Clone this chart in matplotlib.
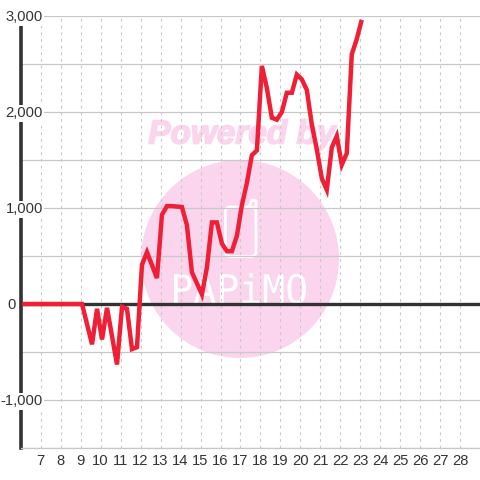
import matplotlib
matplotlib.use('Agg')
import matplotlib.pyplot as plt
import matplotlib.patheffects as pe
from matplotlib.font_manager import FontProperties
from matplotlib.patches import Circle, FancyBboxPatch, PathPatch
from matplotlib.textpath import TextPath
from matplotlib.transforms import Affine2D, blended_transform_factory

plt.rcParams['font.family'] = ['Liberation Sans', 'DejaVu Sans']

hours = [6, 6.5, 7, 7.5, 8, 8.5, 9, 9.5, 9.75, 10, 10.25, 10.75, 11, 11.25, 11.5, 11.75,
         12, 12.25, 12.75, 13, 13.25, 13.5, 14, 14.25, 14.5, 15, 15.25, 15.5, 15.75, 16,
         16.25, 16.5, 16.75, 17, 17.25, 17.5, 17.75, 18, 18.25, 18.5, 18.75, 19, 19.25,
         19.5, 19.75, 20, 20.25, 20.5, 20.75, 21, 21.25, 21.5, 21.75, 22, 22.25, 22.5,
         22.75, 23]
values = [0, 0, 0, 0, 0, 0, 0, -420, -50, -370, -40, -630, -30, -50, -470, -450,
          410, 540, 270, 930, 1020, 1020, 1010, 820, 330, 100, 380, 850, 850, 630,
          550, 550, 710, 1030, 1260, 1550, 1600, 2480, 2250, 1940, 1920, 2000, 2200,
          2200, 2390, 2340, 2230, 1870, 1610, 1310, 1190, 1630, 1750, 1450, 1570, 2600,
          2760, 2960]
x_ticks = list(range(7, 29))
y_major = [-1000, 0, 1000, 2000, 3000]
y_minor = [-1500, -500, 500, 1500, 2500]
y_labels = ['-1,000', '0', '1,000', '2,000', '3,000']

fig = plt.figure(figsize=(4.8, 4.8), dpi=100)

# watermark goes on a pixel-sized axes underneath the chart
bg = fig.add_axes([0, 0, 1, 1], zorder=0)
bg.set_xlim(0, 480)
bg.set_ylim(480, 0)
bg.axis('off')
pink = '#fbd5ee'
bg.add_patch(Circle((240, 259), 99, color=pink, lw=0))
bg.text(242, 135, 'Powered by', color=pink, fontsize=24, fontweight='bold', fontstyle='italic',
        ha='center', va='center', path_effects=[pe.withStroke(linewidth=1.2, foreground=pink)])

# logo text, squeezed to the box it has in the picture
tp = TextPath((0, 0), 'PAPiMO', size=10, prop=FontProperties(family='DejaVu Sans Mono'))
box = tp.get_extents()
sx, sy = 132 / box.width, 31 / box.height
logo = Affine2D().translate(-box.x0, -box.y0).scale(sx, -sy).translate(174, 304)
bg.add_patch(PathPatch(logo.transform_path(tp), fc='white', ec='none', lw=0))
bg.add_patch(FancyBboxPatch((225.5, 207), 30.5, 49.5, boxstyle='round,pad=0,rounding_size=5',
                            fc='none', ec='white', lw=2))
bg.plot([249, 252, 256, 256], [207, 200, 201, 208], color='white', lw=2)

ax = fig.add_axes([20.7 / 480, 32 / 480, (480 - 20.7) / 480, 432 / 480], zorder=1)
ax.patch.set_alpha(0)
ax.set_xlim(6, 6 + (480 - 20.7) / 19.98)
ax.set_ylim(-1500, 3000)

for s in ['top', 'right']:
    ax.spines[s].set_visible(False)
ax.spines['left'].set_linewidth(2.6)
ax.spines['left'].set_color('#333333')
ax.spines['bottom'].set_linewidth(0.9)
ax.spines['bottom'].set_color('#c8c8c8')

ax.set_xticks(x_ticks)
ax.set_yticks(y_major + y_minor)
ax.grid(axis='y', color='#c8c8c8', lw=0.9, zorder=1)
ax.grid(axis='x', color='#c8c8c8', lw=0.8, ls=(0, (2.5, 3.5)), zorder=1)
ax.tick_params(axis='both', length=0)
ax.tick_params(axis='x', labelsize=10.6, labelcolor='#333333', pad=4)
ax.set_yticklabels([])

ax.axhline(0, color='#333333', lw=2.4, zorder=2)
# samples land a few minutes after the hour marks
ax.plot([h + 0.07 for h in hours], values, color='#f01f35', lw=3.2, solid_joinstyle='miter',
        solid_capstyle='butt', zorder=3)

# y labels sit on white boxes that cut the axis line
label_tf = blended_transform_factory(fig.transFigure, ax.transData)
for v, lab in zip(y_major, y_labels):
    if v == 0:
        ax.text(16 / 480, v - 15, lab, transform=label_tf, ha='right', va='center', fontsize=10.6,
                color='#333333', zorder=5, clip_on=False)
    else:
        ax.text(43 / 480, v - 15, lab, transform=label_tf, ha='right', va='center', fontsize=10.6,
                color='#333333', zorder=5, clip_on=False,
                bbox=dict(fc='white', ec='none', pad=1))

fig.savefig('out.png', dpi=100)
